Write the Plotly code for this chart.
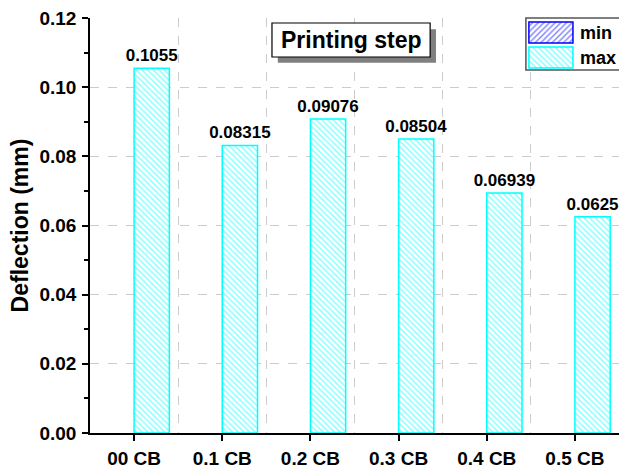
import plotly.graph_objects as go

categories = ["00 CB", "0.1 CB", "0.2 CB", "0.3 CB", "0.4 CB", "0.5 CB"]
max_values = [0.1055, 0.08315, 0.09076, 0.08504, 0.06939, 0.0625]
max_labels = ["0.1055", "0.08315", "0.09076", "0.08504", "0.06939", "0.0625"]
min_values = [None, None, None, None, None, None]
y_ticks = [0.00, 0.02, 0.04, 0.06, 0.08, 0.10, 0.12]
y_ticklabels = ["0.00", "0.02", "0.04", "0.06", "0.08", "0.10", "0.12"]
legend_names = ["min", "max"]

xpos = list(range(len(categories)))
FONT = "Liberation Sans, Arial, sans-serif"
MIN_STYLE = dict(color="white", line=dict(color="#0000FF", width=1.5),
                 pattern=dict(shape="/", fgcolor="#0000FF", bgcolor="white", size=4, solidity=0.35))
MAX_STYLE = dict(color="white", line=dict(color="#00FFFF", width=1.5),
                 pattern=dict(shape="\\", fgcolor="#00FFFF", bgcolor="white", size=4, solidity=0.35))

fig = go.Figure()
fig.add_trace(go.Bar(x=xpos, y=min_values, name="min", width=0.4, offset=-0.4,
                     marker=MIN_STYLE, showlegend=False))
fig.add_trace(go.Bar(
    x=xpos, y=max_values, name="max", width=0.4, offset=0,
    text=max_labels, textposition="outside", cliponaxis=False, constraintext="none",
    textfont=dict(family=FONT, size=17, color="black", weight="bold"),
    marker=MAX_STYLE, showlegend=False,
))

# custom legend (inset axes) with large hatched swatches
fig.add_trace(go.Bar(x=[1], y=[1], base=0, orientation="h", width=0.84, marker=MIN_STYLE,
                     xaxis="x2", yaxis="y2", showlegend=False, hoverinfo="skip"))
fig.add_trace(go.Bar(x=[1], y=[0], base=0, orientation="h", width=0.84, marker=MAX_STYLE,
                     xaxis="x2", yaxis="y2", showlegend=False, hoverinfo="skip"))
for yv, name in zip([0.97, -0.03], legend_names):
    fig.add_annotation(text="<b>%s</b>" % name, xref="paper", yref="y2", x=0.9225, y=yv,
                       xanchor="left", yanchor="middle", showarrow=False,
                       font=dict(family=FONT, size=18, color="black"))

fig.update_layout(
    width=619, height=475,
    margin=dict(l=90, r=0, t=18, b=42),
    plot_bgcolor="white", paper_bgcolor="white",
    barmode="overlay",
    showlegend=False,
    font=dict(family=FONT, color="black"),
    xaxis=dict(
        range=[-0.5, 5.5], tickmode="array", tickvals=xpos, ticktext=categories,
        showline=True, linecolor="black", linewidth=1.5,
        ticks="outside", ticklen=6, tickwidth=1.5, tickcolor="black",
        tickfont=dict(family=FONT, size=19, color="black", weight="bold"),
        ticklabelstandoff=1, automargin=False, ticklabeloverflow="allow",
        showgrid=False, zeroline=False,
        minor=dict(tickmode="array", tickvals=[0.5, 1.5, 2.5, 3.5, 4.5], ticklen=0,
                   showgrid=True, gridcolor="#CCCCCC", griddash="dash", gridwidth=1),
    ),
    yaxis=dict(
        range=[0, 0.12], tickmode="array", tickvals=y_ticks, ticktext=y_ticklabels,
        showline=True, linecolor="black", linewidth=1.5,
        ticks="outside", ticklen=6, tickwidth=1.5, tickcolor="black",
        tickfont=dict(family=FONT, size=19, color="black", weight="bold"),
        ticklabelstandoff=2, automargin=False, ticklabeloverflow="allow",
        showgrid=True, gridcolor="#CCCCCC", griddash="dash", gridwidth=1,
        zeroline=False,
        minor=dict(dtick=0.01, ticks="outside", ticklen=4, tickwidth=1.5, tickcolor="black", showgrid=False),
        title=dict(text="Deflection (mm)", font=dict(family=FONT, size=23, color="black", weight="bold"), standoff=4),
    ),
    xaxis2=dict(domain=[0.824, 1.0], range=[-0.068, 2.045], visible=False, fixedrange=True),
    yaxis2=dict(domain=[0.875, 1.0], range=[-0.5, 1.58], visible=False, fixedrange=True),
)

# legend border
fig.add_shape(type="rect", xref="paper", yref="paper", x0=0.824, x1=1.1, y0=0.875, y1=1.0,
              fillcolor="rgba(0,0,0,0)", line=dict(color="#555555", width=1.5), layer="above")

# Title box with shadow
fig.add_shape(type="rect", xref="paper", yref="paper", x0=0.355, x1=0.654, y0=0.892, y1=0.973,
              fillcolor="#808080", line=dict(width=0), layer="above")
fig.add_shape(type="rect", xref="paper", yref="paper", x0=0.344, x1=0.643, y0=0.906, y1=0.988,
              fillcolor="white", line=dict(color="black", width=1.2), layer="above")
fig.add_annotation(text="<b>Printing step</b>", xref="paper", yref="paper", x=0.4935, y=0.947,
                   showarrow=False, font=dict(family=FONT, size=23, color="black"),
                   xanchor="center", yanchor="middle")

fig.write_html(
    "out.html",
    config={"displayModeBar": False},
    post_script="document.documentElement.style.margin='0';document.body.style.margin='0';"
                "document.documentElement.style.overflow='hidden';document.body.style.overflow='hidden';",
)
